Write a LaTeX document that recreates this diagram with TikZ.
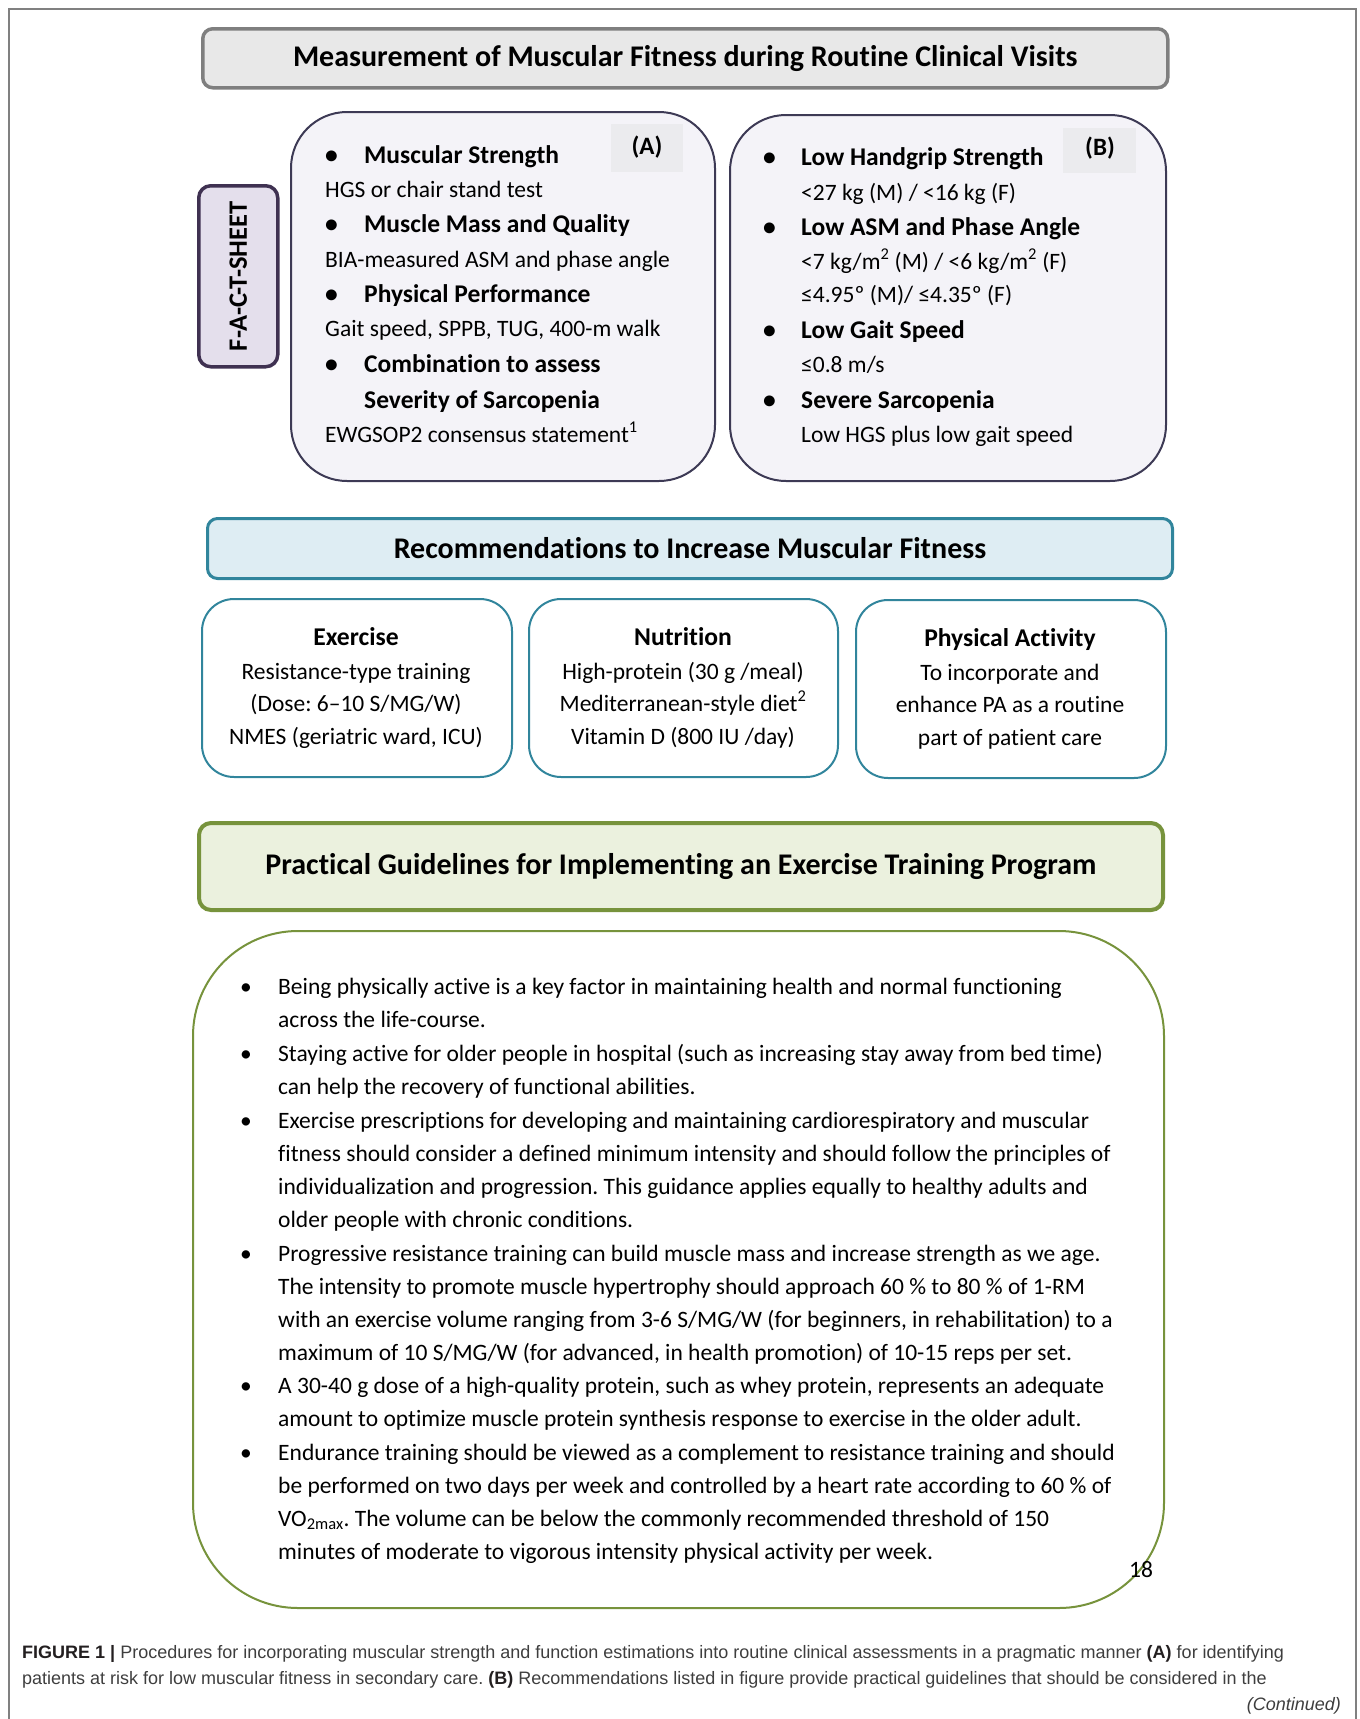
\documentclass[tikz,border=0pt]{standalone}
\usepackage{fontspec}
\setmainfont{Carlito}[Ligatures=NoCommon]
\newfontfamily\capfont{Liberation Sans}
\frenchspacing
\definecolor{framec}{HTML}{808080}
\definecolor{grayfill}{HTML}{E8E8E8}
\definecolor{grayline}{HTML}{7F7F7F}
\definecolor{lavfill}{HTML}{F4F3F8}
\definecolor{lavline}{HTML}{3D3A55}
\definecolor{factfill}{HTML}{E4DFEC}
\definecolor{factline}{HTML}{3F3151}
\definecolor{labfill}{HTML}{EBEBEE}
\definecolor{bluefill}{HTML}{DEEDF3}
\definecolor{tealline}{HTML}{31859C}
\definecolor{greenfill}{HTML}{EBF1DE}
\definecolor{greenline}{HTML}{77933C}
\definecolor{capgray}{HTML}{3E3E3E}
\definecolor{capdark}{HTML}{231F20}
\tikzset{
  boxbase/.style={rectangle, inner sep=0pt, anchor=north west},
  titlebox/.style={boxbase, draw=grayline, fill=grayfill, line width=3.5pt, rounded corners=10pt},
  lavbox/.style={boxbase, draw=lavline, fill=lavfill, line width=2pt, rounded corners=56pt},
  factbox/.style={boxbase, draw=factline, fill=factfill, line width=3.5pt, rounded corners=12pt},
  labbox/.style={boxbase, fill=labfill},
  bluehead/.style={boxbase, draw=tealline, fill=bluefill, line width=3pt, rounded corners=10pt},
  tealbox/.style={boxbase, draw=tealline, fill=white, line width=2pt, rounded corners=32pt},
  greenhead/.style={boxbase, draw=greenline, fill=greenfill, line width=4pt, rounded corners=12pt},
  greenbox/.style={boxbase, draw=greenline, fill=white, line width=2pt, rounded corners=105pt},
  headtxt/.style={inner sep=0pt, font=\fontsize{30}{34}\selectfont\bfseries},
  btxt/.style={inner sep=0pt, anchor=base west, font=\fontsize{25.5}{29}\selectfont\bfseries},
  ntxt/.style={inner sep=0pt, anchor=base west, font=\fontsize{23.5}{27}\selectfont},
  ctxt/.style={inner sep=0pt, anchor=base, font=\fontsize{23.5}{27}\selectfont},
  cbtxt/.style={inner sep=0pt, anchor=base, font=\fontsize{25.6}{29}\selectfont\bfseries},
  gtxt/.style={inner sep=0pt, anchor=base west, font=\fontsize{23.5}{27}\selectfont},
  captxt/.style={inner sep=0pt, anchor=base west, text=capgray, font=\capfont\fontsize{18}{21}\selectfont},
}
\begin{document}
\begin{tikzpicture}[x=1pt,y=-1pt]
\useasboundingbox (0,0) rectangle (1360,1719);
% outer frame
\draw[framec, line width=1.2pt] (9,1719) -- (9,9) -- (1356,9) -- (1356,1719);

% ---------- Title 1
\node[titlebox, minimum width=965pt, minimum height=59pt] (t1) at (201,27) {};
\node[headtxt] (t1txt) at (t1.center) {Measurement of Muscular Fitness during Routine Clinical Visits};

% ---------- FACT sheet
\node[factbox, minimum width=79pt, minimum height=181pt] (fact) at (197,184) {};
\node[inner sep=0pt, rotate=90, font=\fontsize{26.5}{30}\selectfont\bfseries] (facttxt) at (fact.center) {F-A-C-T-SHEET};

% ---------- Box A
\node[lavbox, minimum width=424pt, minimum height=369pt] (boxA) at (290,111) {};
\node[labbox, minimum width=72pt, minimum height=48pt] (labA) at (611,124) {};
\node[inner sep=0pt, font=\fontsize{25}{29}\selectfont\bfseries] (labAtxt) at (647,147) {(A)};
\node[btxt] (a1b) at (325,163) {•};
\node[btxt] (a1) at (364,163) {Muscular Strength};
\node[ntxt] (a2) at (325,197) {HGS or chair stand test};
\node[btxt] (a3b) at (325,232) {•};
\node[btxt] (a3) at (364,232) {Muscle Mass and Quality};
\node[ntxt] (a4) at (325,267) {BIA-measured ASM and phase angle};
\node[btxt] (a5b) at (325,302) {•};
\node[btxt] (a5) at (364,302) {Physical Performance};
\node[ntxt] (a6) at (325,336) {Gait speed, SPPB, TUG, 400-m walk};
\node[btxt] (a7b) at (325,372) {•};
\node[btxt] (a7) at (364,372) {Combination to assess};
\node[btxt] (a8) at (364,408) {Severity of Sarcopenia};
\node[ntxt] (a9) at (325,442) {EWGSOP2 consensus statement\textsuperscript{1}};

% ---------- Box B
\node[lavbox, minimum width=436pt, minimum height=366pt] (boxB) at (729,114) {};
\node[labbox, minimum width=73pt, minimum height=45pt] (labB) at (1063,128) {};
\node[inner sep=0pt, font=\fontsize{25}{29}\selectfont\bfseries] (labBtxt) at (1100,148) {(B)};
\node[btxt] (b1b) at (763,165) {•};
\node[btxt] (b1) at (801,165) {Low Handgrip Strength};
\node[ntxt] (b2) at (801,200) {<27 kg (M) / <16 kg (F)};
\node[btxt] (b3b) at (763,235) {•};
\node[btxt] (b3) at (801,235) {Low ASM and Phase Angle};
\node[ntxt] (b4) at (801,269) {<7 kg/m\textsuperscript{2} (M) / <6 kg/m\textsuperscript{2} (F)};
\node[ntxt] (b5) at (801,302) {≤4.95º (M)/ ≤4.35º (F)};
\node[btxt] (b6b) at (763,338) {•};
\node[btxt] (b6) at (801,338) {Low Gait Speed};
\node[ntxt] (b7) at (801,372) {≤0.8 m/s};
\node[btxt] (b8b) at (763,408) {•};
\node[btxt] (b8) at (801,408) {Severe Sarcopenia};
\node[ntxt] (b9) at (801,442) {Low HGS plus low gait speed};

% ---------- Recommendations
\node[bluehead, minimum width=965pt, minimum height=60pt] (rec) at (206,517) {};
\node[headtxt] (rectxt) at (rec.center) {Recommendations to Increase Muscular Fitness};

\node[tealbox, minimum width=310pt, minimum height=178pt] (ex) at (201,598) {};
\node[tealbox, minimum width=309pt, minimum height=178pt] (nu) at (528,598) {};
\node[tealbox, minimum width=310pt, minimum height=178pt] (pa) at (855,599) {};

\node[cbtxt] (ex1) at (356,645) {Exercise};
\node[ctxt] (ex2) at (356,679) {Resistance-type training};
\node[ctxt] (ex3) at (356,711) {(Dose: 6–10 S/MG/W)};
\node[ctxt] (ex4) at (356,744) {NMES (geriatric ward, ICU)};

\node[cbtxt] (nu1) at (683,645) {Nutrition};
\node[ctxt] (nu2) at (683,679) {High-protein (30 g /meal)};
\node[ctxt] (nu3) at (683,711) {Mediterranean-style diet\textsuperscript{2}};
\node[ctxt] (nu4) at (683,744) {Vitamin D (800 IU /day)};

\node[cbtxt] (pa1) at (1010,646) {Physical Activity};
\node[ctxt] (pa2) at (1010,680) {To incorporate and};
\node[ctxt] (pa3) at (1010,712) {enhance PA as a routine};
\node[ctxt] (pa4) at (1010,745) {part of patient care};

% ---------- Practical guidelines
\node[greenhead, minimum width=964pt, minimum height=87pt] (pg) at (197,821) {};
\node[headtxt] (pgtxt) at (pg.center) {Practical Guidelines for Implementing an Exercise Training Program};

\node[greenbox, minimum width=971pt, minimum height=677pt] (gb) at (192,930) {};
\node[gtxt] (pnum) at (1129,1577) {18};

\node[gtxt] (g1b) at (240,994) {•};
\node[gtxt] (g1) at (278,994) {Being physically active is a key factor in maintaining health and normal functioning};
\node[gtxt] (g2) at (278,1027) {across the life-course.};
\node[gtxt] (g3b) at (240,1061) {•};
\node[gtxt] (g3) at (278,1061) {Staying active for older people in hospital (such as increasing stay away from bed time)};
\node[gtxt] (g4) at (278,1094) {can help the recovery of functional abilities.};
\node[gtxt] (g5b) at (240,1128) {•};
\node[gtxt] (g5) at (278,1128) {Exercise prescriptions for developing and maintaining cardiorespiratory and muscular};
\node[gtxt] (g6) at (278,1161) {fitness should consider a defined minimum intensity and should follow the principles of};
\node[gtxt] (g7) at (278,1194) {individualization and progression. This guidance applies equally to healthy adults and};
\node[gtxt] (g8) at (278,1227) {older people with chronic conditions.};
\node[gtxt] (g9b) at (240,1261) {•};
\node[gtxt] (g9) at (278,1261) {Progressive resistance training can build muscle mass and increase strength as we age.};
\node[gtxt] (g10) at (278,1294) {The intensity to promote muscle hypertrophy should approach 60 \% to 80 \% of 1-RM};
\node[gtxt] (g11) at (278,1327) {with an exercise volume ranging from 3-6 S/MG/W (for beginners, in rehabilitation) to a};
\node[gtxt] (g12) at (278,1360) {maximum of 10 S/MG/W (for advanced, in health promotion) of 10-15 reps per set.};
\node[gtxt] (g13b) at (240,1393) {•};
\node[gtxt] (g13) at (278,1393) {A 30-40 g dose of a high-quality protein, such as whey protein, represents an adequate};
\node[gtxt] (g14) at (278,1426) {amount to optimize muscle protein synthesis response to exercise in the older adult.};
\node[gtxt] (g15b) at (240,1460) {•};
\node[gtxt] (g15) at (278,1460) {Endurance training should be viewed as a complement to resistance training and should};
\node[gtxt] (g16) at (278,1493) {be performed on two days per week and controlled by a heart rate according to 60 \% of};
\node[gtxt] (g17) at (278,1526) {VO\textsubscript{2max}. The volume can be below the commonly recommended threshold of 150};
\node[gtxt] (g18) at (278,1559) {minutes of moderate to vigorous intensity physical activity per week.};

% ---------- Caption
\node[captxt] (cap1) at (22,1658) {\textcolor{capdark}{\textbf{FIGURE 1 |}} Procedures for incorporating muscular strength and function estimations into routine clinical assessments in a pragmatic manner \textcolor{capdark}{\textbf{(A)}} for identifying};
\node[captxt] (cap2) at (22,1684) {patients at risk for low muscular fitness in secondary care. \textcolor{capdark}{\textbf{(B)}} Recommendations listed in figure provide practical guidelines that should be considered in the};
\node[captxt, anchor=base east] (cap3) at (1341,1710) {\itshape (Continued)};
\end{tikzpicture}
\end{document}
